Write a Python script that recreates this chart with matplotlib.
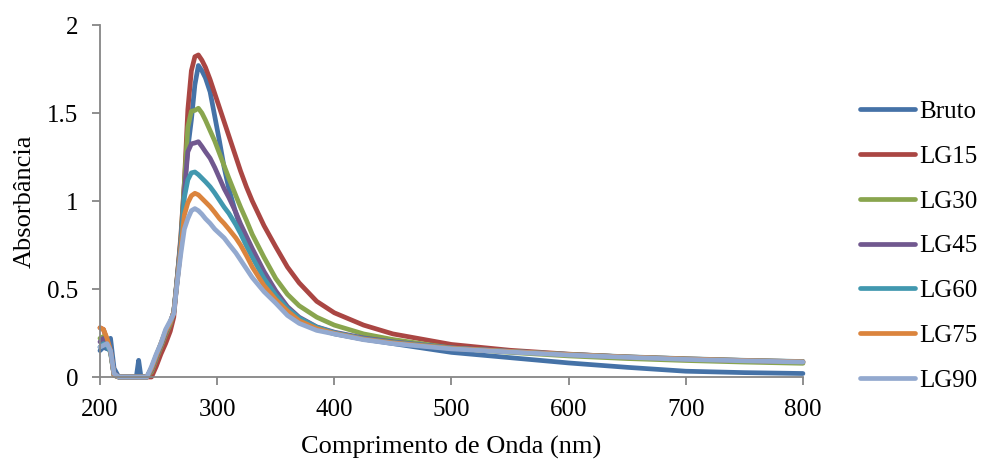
import matplotlib.pyplot as plt

plt.rcParams['font.family'] = ['Liberation Serif', 'DejaVu Serif']

# comprimento de onda (nm)
wl = [200, 203, 206, 209, 212, 216, 222, 228, 231, 233,
      235, 240, 244, 248, 252, 256, 260, 263, 266, 269,
      272, 275, 278, 281, 284, 287, 290, 294, 298, 302,
      306, 310, 316, 320, 325, 330, 340, 350, 360, 370,
      385, 400, 425, 450, 500, 550, 600, 650, 700, 750, 800]

bruto = [.15, .17, .16, .22, .05, 0, 0, 0, 0, .095,
         0, 0, .05, .12, .18, .25, .30, .37, .55, .74,
         1.08, 1.30, 1.46, 1.66, 1.77, 1.74, 1.70, 1.62, 1.48, 1.34,
         1.19, 1.07, .93, .85, .765, .69, .57, .47, .39, .33,
         .275, .245, .215, .19, .14, .11, .08, .055, .033, .025, .02]

lg15 = [.28, .27, .21, .15, .02, 0, 0, 0, 0, 0,
        0, 0, 0, .06, .13, .19, .26, .34, .57, .80,
        1.10, 1.52, 1.74, 1.82, 1.83, 1.80, 1.76, 1.69, 1.61, 1.53,
        1.45, 1.37, 1.25, 1.17, 1.08, 1.0, .86, .74, .625, .535,
        .43, .365, .295, .245, .185, .152, .13, .113, .10, .09, .083]

lg30 = [.22, .23, .19, .14, .01, 0, 0, 0, 0, 0,
        0, 0, .03, .10, .17, .24, .30, .37, .57, .78,
        1.10, 1.42, 1.51, 1.515, 1.527, 1.50, 1.46, 1.40, 1.34, 1.27,
        1.20, 1.13, 1.03, .965, .89, .81, .68, .56, .47, .405,
        .34, .295, .245, .213, .165, .14, .12, .105, .094, .085, .078]

lg45 = [.20, .22, .19, .15, .01, 0, 0, 0, 0, 0,
        0, 0, .04, .11, .18, .25, .31, .37, .57, .77,
        1.05, 1.28, 1.325, 1.33, 1.337, 1.31, 1.28, 1.243, 1.19, 1.13,
        1.07, 1.02, .935, .87, .80, .73, .60, .49, .40, .34,
        .285, .255, .222, .20, .165, .145, .128, .114, .103, .094, .087]

lg60 = [.17, .19, .18, .14, .01, 0, 0, 0, 0, 0,
        0, 0, .05, .12, .19, .26, .31, .37, .56, .75,
        1.02, 1.12, 1.16, 1.165, 1.15, 1.13, 1.11, 1.081, 1.045, 1.005,
        .965, .93, .865, .815, .745, .68, .56, .465, .39, .335,
        .283, .252, .218, .197, .165, .146, .129, .115, .104, .095, .088]

lg75 = [.28, .27, .22, .15, .01, 0, 0, 0, 0, 0,
        0, 0, .05, .12, .19, .26, .31, .37, .55, .73,
        .92, .99, 1.03, 1.044, 1.035, 1.015, .995, .968, .935, .90,
        .872, .84, .79, .75, .69, .625, .52, .44, .375, .32,
        .275, .248, .215, .194, .163, .145, .128, .114, .103, .094, .087]

lg90 = [.17, .18, .19, .15, .02, 0, 0, 0, 0, 0,
        0, 0, .06, .13, .19, .27, .32, .36, .54, .70,
        .84, .90, .945, .957, .945, .925, .90, .873, .84, .815,
        .79, .755, .705, .665, .615, .565, .485, .42, .35, .305,
        .265, .245, .212, .19, .16, .142, .125, .112, .10, .092, .085]

nomes = ['Bruto', 'LG15', 'LG30', 'LG45', 'LG60', 'LG75', 'LG90']
series = [bruto, lg15, lg30, lg45, lg60, lg75, lg90]
cores = ['#4572A7', '#AA4643', '#89A54E', '#71588F', '#4198AF', '#DB843D', '#93A9CF']

fig = plt.figure(figsize=(9.84, 4.59), dpi=100)
ax = fig.add_axes([0.1016, 0.1786, 0.7144, 0.7669])

for nome, y, c in zip(nomes, series, cores):
    ax.plot(wl, y, color=c, lw=3.4, label=nome, solid_capstyle='round',
            solid_joinstyle='round', clip_on=False)

ax.set_xlim(200, 800)
ax.set_ylim(0, 2)
ax.set_xticks(range(200, 801, 100))
ax.set_yticks([0, 0.5, 1, 1.5, 2])
ax.set_yticklabels(['0', '0.5', '1', '1.5', '2'])

for s in ['top', 'right']:
    ax.spines[s].set_visible(False)
for s in ['left', 'bottom']:
    ax.spines[s].set_color('#868686')
    ax.spines[s].set_linewidth(1.3)
ax.tick_params(direction='out', length=5.5, width=1.3, color='#868686',
               labelsize=18)
ax.tick_params(axis='x', pad=10)
ax.tick_params(axis='y', pad=10)

ax.set_xlabel('Comprimento de Onda (nm)', fontsize=19, labelpad=11)
ax.set_ylabel('Absorbância', fontsize=19, labelpad=8)

fig.legend(loc='center left', bbox_to_anchor=(0.874, 0.464), frameon=False,
           fontsize=18, handlelength=2.2, handletextpad=0.18,
           labelspacing=0.89, borderpad=0, borderaxespad=0)

fig.savefig('out.png', dpi=100)
